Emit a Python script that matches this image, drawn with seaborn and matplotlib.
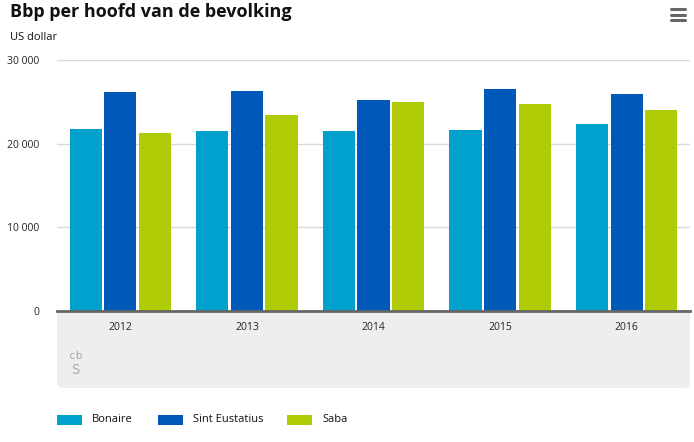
import pandas as pd
import numpy as np
import seaborn as sns
import matplotlib.pyplot as plt
from matplotlib.patches import FancyBboxPatch, Rectangle
from matplotlib.lines import Line2D

# Bbp per hoofd, US dollar
years = ['2012', '2013', '2014', '2015', '2016']
bonaire = [21750, 21510, 21510, 21630, 22350]
sint_eustatius = [26170, 26290, 25220, 26530, 25930]
saba = [21270, 23420, 24980, 24740, 24020]
islands = ['Bonaire', 'Sint Eustatius', 'Saba']
colors = ['#00a1cd', '#0058b8', '#afcb05']

df = pd.DataFrame({'Jaar': years * 3,
                   'Eiland': np.repeat(islands, len(years)),
                   'Waarde': bonaire + sint_eustatius + saba})

sns.set_style('white')
plt.rcParams['font.family'] = ['Open Sans', 'DejaVu Sans']

W, H = 694, 442
fig = plt.figure(figsize=(W / 100, H / 100), dpi=100)
ax = fig.add_axes([57 / W, 1 - 311 / H, (690 - 57) / W, (311 - 60) / H])
ax.set_zorder(2)

# gray panel under the axis
panel = FancyBboxPatch((57 / W, 1 - 388 / H), (690 - 57) / W, (388 - 311) / H,
                       boxstyle='round,pad=0,rounding_size=0.012',
                       transform=fig.transFigure, facecolor='#eeeeee',
                       edgecolor='none', zorder=0)
fig.patches.append(panel)
fig.patches.append(Rectangle((57 / W, 1 - 340 / H), (690 - 57) / W, 29 / H,
                             transform=fig.transFigure, facecolor='#eeeeee',
                             edgecolor='none', zorder=0))

sns.barplot(data=df, x='Jaar', y='Waarde', hue='Eiland', hue_order=islands,
            palette=colors, width=0.82, gap=0.07, saturation=1, ax=ax,
            legend=False, edgecolor='none')

ax.set_ylim(0, 30000)
ax.set_xlim(-0.5, 4.5)
ax.set_yticks([0, 10000, 20000, 30000])
ax.set_yticklabels(['0', '10 000', '20 000', '30 000'])
ax.yaxis.grid(True, color='#d9d9d9', linewidth=1)
ax.set_axisbelow(True)
ax.tick_params(axis='y', length=0, pad=13, labelsize=7.5)
ax.tick_params(axis='x', length=0, pad=8, labelsize=7.5)
for s in ['top', 'right', 'left']:
    ax.spines[s].set_visible(False)
ax.spines['bottom'].set_color('#666666')
ax.spines['bottom'].set_linewidth(2)
ax.spines['bottom'].set_zorder(5)
ax.set_xlabel('')
ax.set_ylabel('')
ax.patch.set_alpha(0)

fig.text(10 / W, 1 - 12 / H, 'Bbp per hoofd van de bevolking', fontsize=13,
         fontweight='bold', va='center', ha='left', color='#111111')
fig.text(10 / W, 1 - 38 / H, 'US dollar', fontsize=8, va='center', ha='left',
         color='#111111')

# menu icon
for yy in [9, 15, 20]:
    fig.lines.append(Line2D([671 / W, 685 / W], [1 - yy / H, 1 - yy / H],
                            transform=fig.transFigure, color='#666666',
                            linewidth=2.2, solid_capstyle='round'))

# cbs logo
fig.text(76 / W, 1 - 356 / H, 'cb', fontsize=8, color='#aaaaaa', ha='center',
         va='center', family='DejaVu Sans Mono')
fig.text(76 / W, 1 - 370 / H, 'S', fontsize=10, color='#aaaaaa', ha='center',
         va='center', family='DejaVu Sans Mono')

# legend
lx = [57, 158, 287]
for x0, name, c in zip(lx, islands, colors):
    fig.patches.append(Rectangle((x0 / W, 1 - 425 / H), 25 / W, 10 / H,
                                 transform=fig.transFigure, facecolor=c,
                                 edgecolor='none'))
    fig.text((x0 + 35) / W, 1 - 420 / H, name, fontsize=8, va='center',
             ha='left', color='#111111')

fig.savefig('out.png', dpi=100)
